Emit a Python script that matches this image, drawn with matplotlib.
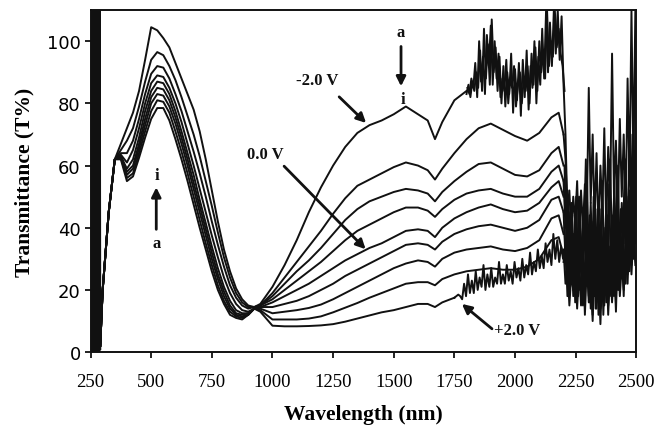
import numpy as np
import matplotlib
matplotlib.use("Agg")
import matplotlib.pyplot as plt

nan = np.nan

# common wavelength grid (nm) for the smooth part of the spectra
wl = [290, 300, 325, 350, 375, 400, 425, 450, 475, 500, 525, 550, 575, 600, 625,
      650, 675, 700, 725, 750, 775, 800, 825, 850, 875, 900, 925, 950, 1000,
      1050, 1100, 1150, 1200, 1250, 1300, 1350, 1400, 1450, 1500, 1550, 1600,
      1640, 1670, 1700, 1750, 1800, 1850, 1900, 1950, 2000, 2050, 2100, 2150,
      2180, 2200]

# transmittance (%) from -2.0 V (t1) to +2.0 V (t9)
t1 = [2, 20, 45, 62, 67, 72, 77, 84, 94, 104.5, 103.5, 101, 98, 93, 88, 83, 78, 71,
      62, 52, 42, 33, 26, 20.5, 17, 15, 14.5, 15.5, 21, 28, 36, 45, 53, 60, 66,
      70.5, 73, 74.5, 76.5, 79, 76.5, 74.5, 68.5, 74, 81, 84,
      nan, nan, nan, nan, nan, nan, nan, nan, nan]
t2 = [2, 20, 45, 62, 65, 68, 72, 79, 87, 94, 96.5, 95.5, 92, 87.5, 82, 76, 70, 63,
      55, 47, 38.5, 30.5, 24, 19, 16, 14.5, 14.5, 15, 19, 24, 29, 34, 39, 44.5,
      49.5, 53.5, 55.5, 57.5, 59.5, 61, 60, 58.5, 55.5, 59, 64, 68.5, 72, 73.5,
      71.5, 69.5, 68, 70.5, 75.5, 77, 70]
t3 = [2, 20, 45, 62, 64, 64, 68, 75, 83, 89.5, 92, 91.5, 88, 83, 77.5, 71, 64.5,
      57.5, 50, 42, 34.5, 27.5, 21.5, 17.5, 15, 14, 14.5, 15, 18, 22, 26, 29.5,
      33.5, 38, 42.5, 46, 48.5, 50, 51.5, 52.5, 52, 51, 48.5, 51.5, 55, 58,
      60.5, 61, 59, 57, 56.5, 58.5, 64, 66, 60]
t4 = [2, 20, 45, 62, 63.5, 61, 65, 72, 80, 86.5, 89, 88.5, 85, 80, 74, 67, 60,
      52.5, 45, 37.5, 30.5, 24, 19, 15.5, 13.5, 13, 14, 15, 17, 20, 23, 26, 29,
      32.5, 36, 39, 41, 43, 45, 46.5, 46.5, 45.5, 43.5, 46, 49, 51, 52, 52.5,
      51, 50, 50, 52.5, 58, 60, 55]
t5 = [2, 20, 45, 62, 63, 59, 62, 69, 77.5, 84, 87, 86.5, 83, 77.5, 71, 64, 57,
      49, 41.5, 34, 27, 21, 16.5, 13.5, 12.5, 12.5, 14, 14.5, 16, 18, 20, 22,
      24.5, 27, 29.5, 31.5, 33.5, 35, 37, 39, 39.5, 39, 37, 40, 43, 45, 46.5,
      47.5, 46, 45, 45.5, 48, 53, 55, 50]
t6 = [2, 20, 45, 62, 63, 58, 60, 67, 75, 82, 85, 84.5, 81, 75.5, 69, 62, 54.5,
      47, 39.5, 32, 25, 19.5, 15, 12.5, 12, 12.5, 14, 14.5, 14.5, 15.5, 16.5,
      18, 20, 22, 24.5, 26.5, 28.5, 30.5, 32.5, 34.5, 35, 34.5, 33, 35.5, 38,
      39.5, 40.5, 41, 40, 39, 40, 42.5, 49, 50, 45]
t7 = [2, 20, 45, 62, 63, 57, 59, 65.5, 73, 80, 83, 82.5, 79, 73.5, 67, 60, 52.5,
      45, 37.5, 30, 23.5, 18, 14, 12, 11.5, 12, 14, 14, 12.5, 13, 13.5, 14.2,
      15.3, 17, 19, 21, 23, 25, 27, 28.5, 29.5, 29, 27.5, 30, 32, 33, 33.5, 34,
      33, 32.5, 33.5, 36, 43, 44, 38]
t8 = [2, 20, 45, 62, 62.5, 56, 57.5, 64, 71, 77.5, 81, 80.5, 77, 71, 64.5, 57.5,
      50, 42.5, 35, 28, 21.5, 16.5, 13, 11.5, 11, 12, 14, 13.5, 10.5, 10.5,
      10.5, 10.8, 11.5, 12.8, 14.3, 15.8, 17.5, 19, 20.5, 22, 22.5, 22.5, 21.5,
      23.5, 25, 26, 26.5, 27, 26.5, 26.5, 27.5, 30, 36, 37, 31]
t9 = [2, 20, 45, 62, 62, 55, 56.5, 62.5, 69, 75, 78.5, 78.5, 74.5, 68.5, 62, 55,
      47.5, 40, 33, 26, 20, 15.5, 12, 11, 10.5, 12, 14, 13, 8.5, 8.3, 8.3, 8.4,
      8.6, 9, 9.8, 10.8, 11.8, 12.8, 13.5, 14.5, 15.5, 15.5, 14.5, 16, 17.5,
      nan, nan, nan, nan, nan, nan, nan, nan, nan, nan]

# noisy tail of -2.0 V (two interleaved traces)
wl_tail1 = list(range(1800, 2225, 8))
tail1 = [83, 86, 82, 87, 84, 90, 85, 97, 84, 104, 88, 99, 86, 107, 90, 98, 84, 95,
         80, 92, 79, 90, 83, 96, 77, 91, 81, 93, 76, 94, 82, 97, 78, 92, 85, 100,
         80, 95, 86, 104, 88, 110, 90, 106, 92, 110, 96, 110, 94, 108, 86, 70,
         45, 28]
wl_tail1b = list(range(1804, 2205, 8))
tail1b = [85, 83, 88, 85, 93, 82, 100, 87, 95, 83, 102, 92, 105, 86, 100, 88, 96,
          82, 88, 84, 94, 80, 88, 85, 92, 79, 86, 90, 80, 88, 84, 92, 80, 96, 86,
          98, 84, 100, 90, 96, 88, 110, 92, 100, 95, 110, 98, 104, 96, 92, 84]
# noisy tail of +2.0 V
wl_tail9 = list(range(1750, 2209, 8))
tail9 = [17.5, 18, 18.5, 18, 17, 22, 18, 25, 19, 23, 19, 26, 20, 24, 21, 28, 20,
         25, 21, 27, 21, 24, 22, 29, 22, 25, 22, 28, 23, 26, 22, 29, 24, 27, 23,
         30, 24, 28, 25, 32, 25, 29, 26, 33, 27, 31, 27, 35, 29, 33, 28, 38, 30,
         36, 29, 34, 30, 33]

# noise beyond 2200 nm
wl_far = list(range(2200, 2497, 8))
far1 = [70, 62, 45, 52, 38, 50, 42, 55, 35, 52, 40, 54, 45, 85, 48, 70, 42, 64,
        38, 60, 45, 72, 40, 66, 48, 96, 50, 68, 44, 75, 50, 70, 45, 88, 55, 110,
        60, 110]
far2 = [55, 40, 52, 30, 48, 25, 45, 30, 50, 28, 42, 33, 58, 30, 48, 26, 52, 22,
        45, 30, 55, 25, 48, 28, 62, 32, 50, 26, 58, 30, 48, 35, 62, 30, 72, 40,
        65, 50]
far3 = [45, 30, 40, 20, 35, 18, 38, 22, 30, 15, 35, 20, 40, 18, 32, 12, 38, 16,
        30, 14, 36, 18, 42, 15, 34, 20, 38, 16, 45, 22, 36, 18, 40, 25, 52, 28,
        45, 35]
far4 = [33, 22, 28, 15, 25, 20, 30, 14, 26, 18, 32, 12, 28, 16, 24, 10, 30, 14,
        26, 9, 28, 15, 32, 12, 26, 16, 30, 13, 34, 18, 28, 20, 35, 22, 40, 25,
        38, 28]
far5 = [29, 35, 18, 30, 22, 38, 16, 28, 20, 34, 15, 26, 22, 36, 14, 30, 18, 40,
        12, 28, 20, 34, 16, 30, 22, 38, 18, 26, 20, 36, 24, 30, 22, 42, 26, 48,
        30, 55]
wl_far_b = list(range(2204, 2501, 8))
far6 = [60, 35, 50, 28, 44, 20, 40, 26, 48, 18, 38, 62, 24, 44, 20, 50, 14, 36,
        26, 46, 18, 40, 30, 54, 22, 44, 30, 60, 26, 46, 34, 58, 30, 50, 38, 70,
        45, 108]
far7 = [40, 25, 36, 45, 22, 32, 50, 18, 40, 28, 46, 22, 34, 16, 42, 30, 24, 46,
        20, 35, 12, 30, 44, 26, 18, 40, 24, 48, 20, 38, 28, 44, 32, 46, 30, 55,
        36, 62]

# detector noise below 290 nm
wl_uv = list(range(250, 292, 2))
uv = [0, 110, 2, 110, 0, 108, 1, 110, 0, 110, 3, 110, 0, 109, 0, 110, 2, 110, 0,
      110, 1]

curves = [t1, t2, t3, t4, t5, t6, t7, t8, t9]

fig = plt.figure(figsize=(6.56, 4.27), dpi=100)
ax = fig.add_axes([0.138, 0.173, 0.832, 0.801])
ink = "#111111"

for t in curves:
    ax.plot(wl, t, color=ink, lw=1.4)
ax.plot(wl_tail1, tail1, color=ink, lw=1.4)
ax.plot(wl_tail1b, tail1b, color=ink, lw=1.4)
ax.plot(wl_tail9, tail9, color=ink, lw=1.4)
for f in [far1, far2, far3, far4, far5]:
    ax.plot(wl_far, f, color=ink, lw=1.4)
for f in [far6, far7]:
    ax.plot(wl_far_b, f, color=ink, lw=1.4)
ax.plot(wl_uv, uv, color=ink, lw=1.5)

ax.set_xlim(250, 2500)
ax.set_ylim(0, 110)
ax.set_xticks(range(250, 2501, 250))
ax.set_yticks(range(0, 101, 20))
for s in ax.spines.values():
    s.set_linewidth(1.4)
    s.set_color(ink)
ax.tick_params(direction="out", length=4, width=1.3, color=ink)
ax.tick_params(axis="x", pad=11)
ax.tick_params(axis="y", pad=3)
for lab in ax.get_xticklabels():
    lab.set_fontfamily("Liberation Serif")
    lab.set_fontsize(13.5)
for lab in ax.get_yticklabels():
    lab.set_fontfamily("DejaVu Sans")
    lab.set_fontsize(13)

lbl = dict(family="Liberation Serif", fontweight="bold", fontsize=15.5)
ax.set_xlabel("Wavelength (nm)", labelpad=10, **lbl)
ax.set_ylabel("Transmittance (T%)", labelpad=9, **lbl)

txt = dict(family="Liberation Serif", fontweight="bold", fontsize=12, color=ink)
arr = dict(arrowstyle="-|>", color=ink, lw=2, mutation_scale=14,
           shrinkA=0, shrinkB=0)

ax.annotate("", xy=(1386, 73.7), xytext=(1275, 82.1), arrowprops=arr)
ax.text(1270, 87.5, "-2.0 V", ha="right", va="center", **txt)
ax.annotate("", xy=(1384, 33.1), xytext=(1048, 59.8), arrowprops=arr)
ax.text(1045, 61, "0.0 V", ha="right", va="bottom", **txt)
ax.annotate("", xy=(1781, 15.5), xytext=(1905, 7.5), arrowprops=arr)
ax.text(1915, 7, "+2.0 V", ha="left", va="center", **txt)

ax.annotate("", xy=(1530, 85.5), xytext=(1530, 98.3), arrowprops=arr)
ax.text(1528, 103, "a", ha="center", va="center", **txt)
ax.text(1538, 81.5, "i", ha="center", va="center", **txt)
ax.annotate("", xy=(521, 53), xytext=(521, 39.5), arrowprops=arr)
ax.text(522, 57, "i", ha="center", va="center", **txt)
ax.text(523, 35, "a", ha="center", va="center", **txt)

fig.savefig("out.png", dpi=100)
